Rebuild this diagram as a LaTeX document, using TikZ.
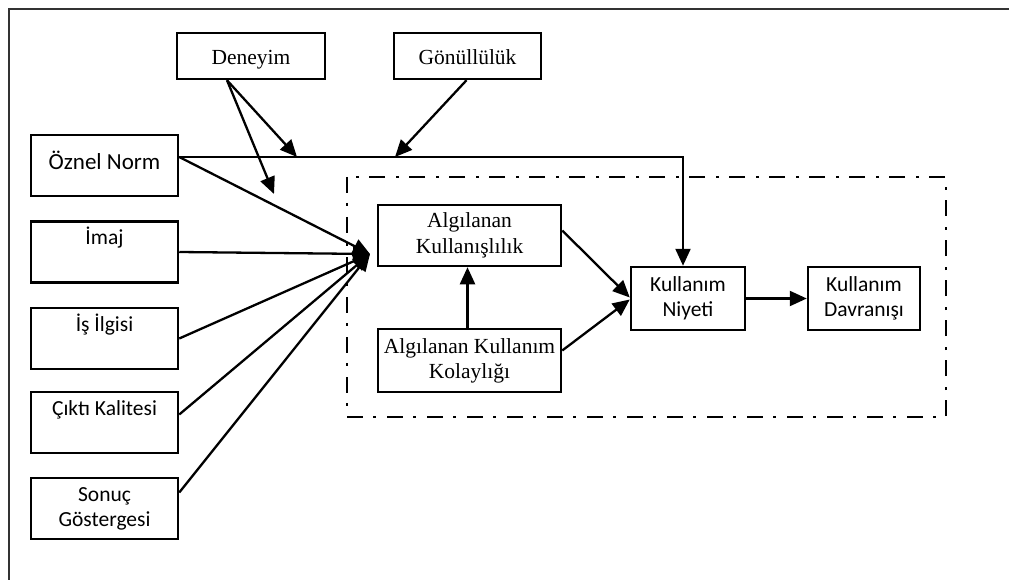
\documentclass[tikz,border=0pt]{standalone}
\usepackage{fontspec}
\usetikzlibrary{arrows.meta,calc}
\newfontfamily\tnrfont{Liberation Serif}
\newfontfamily\calfont{Carlito}
\newcommand{\lowertext}[1]{\raisebox{-4pt}[\height][\depth]{#1}}
\newcommand{\raisetext}[1]{\raisebox{5pt}[\height][\depth]{#1}}
\begin{document}
\begin{tikzpicture}[x=1pt,y=-1pt,
  box/.style={draw, line width=2.5pt, rectangle, inner sep=0pt, align=center},
  serifbox/.style={box, font=\tnrfont\fontsize{21.5}{25}\selectfont},
  sansbox/.style={box, font=\calfont\fontsize{21.5}{25}\selectfont},
  leftbox/.style={sansbox, minimum width=147pt, minimum height=61pt},
  topbox/.style={serifbox, minimum width=147pt, minimum height=46pt},
  link/.style={line width=2.3pt},
  arr/.style={link, -{Triangle[length=17pt,width=15pt]}},
  frame/.style={line width=1.5pt, black!80},
  dashdot/.style={line width=2.2pt, dash pattern=on 16pt off 10pt on 3pt off 11pt}]
\useasboundingbox (0,0) rectangle (1009,580);

% open outer frame
\draw[frame] (1009,9) -- (9,9) -- (9,580);

% dash-dot boundary of the core model
\draw[dashdot] (347,177) rectangle (946,417);

% moderators
\node[topbox, minimum width=148pt] (deneyim) at (251,56) {\lowertext{\strut Deneyim}};
\node[topbox] (gonul) at (467.5,56) {\lowertext{\strut Gönüllülük}};

% external determinants
\node[leftbox, font=\calfont\fontsize{23}{25}\selectfont] (oznel) at (104.5,165.5) {\raisetext{Öznel Norm}};
\node[leftbox] (imaj) at (104.5,252) {\strut İmaj\\\strut};
\node[leftbox] (isilgi) at (104.5,338.5) {\strut İş İlgisi\\\strut};
\node[leftbox] (cikti) at (104.5,422.5) {\strut Çıktı Kalitesi\\\strut};
\node[leftbox] (sonuc) at (104.5,508.5) {\strut Sonuç\\\strut Göstergesi};

% core model
\node[serifbox, minimum width=183pt, minimum height=61pt] (ak) at (469.5,235.5) {\strut Algılanan\\\strut Kullanışlılık};
\node[serifbox, minimum width=183pt, minimum height=63pt] (akk) at (469.5,360.5) {\strut Algılanan Kullanım\\\strut Kolaylığı};
\node[sansbox, minimum width=114pt, minimum height=63pt] (niyet) at (688,298.5) {\strut Kullanım\\\strut Niyeti};
\node[sansbox, minimum width=112pt, minimum height=63pt] (davranis) at (864,298.5) {\strut Kullanım\\\strut Davranışı};

% helper points
\coordinate (hub) at (370,254);
\coordinate (corner) at (683,157);
\coordinate (d1) at (297,157);
\coordinate (d2) at (274,194);
\coordinate (g1) at (395,157);

% subjective norm path to intention
\draw[arr] (oznel.east |- corner) -- (corner) -- (corner |- niyet.north);

% moderator arrows
\draw[arr] ([xshift=-24pt]deneyim.south) -- (d1);
\draw[arr] ([xshift=-24pt]deneyim.south) -- (d2);
\draw[arr] ([xshift=-1pt]gonul.south) -- (g1);

% determinants of perceived usefulness
\draw[arr] (oznel.east |- corner) -- (hub);
\draw[arr] (imaj.east) -- (hub);
\draw[arr] (isilgi.east) -- (hub);
\draw[arr] ([yshift=8pt]cikti.east) -- (hub);
\draw[arr] ([yshift=16pt]sonuc.east) -- (hub);

% core relations
\draw[arr] ([yshift=5pt]ak.east) -- ([yshift=1pt]niyet.west);
\draw[arr] ([yshift=10pt]akk.east) -- ([yshift=-1pt]niyet.west);
\draw[arr] ([xshift=-2pt]akk.north) -- ([xshift=-2pt]ak.south);
\draw[arr] (niyet.east) -- (davranis.west);
\end{tikzpicture}
\end{document}
